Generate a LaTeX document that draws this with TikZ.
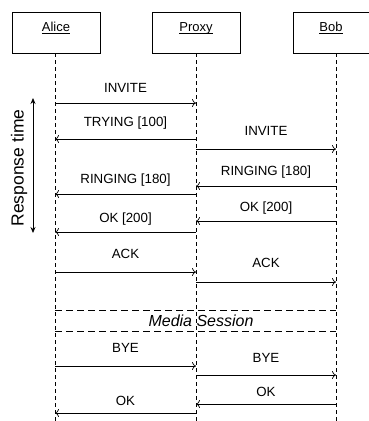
\documentclass[tikz,border=0pt]{standalone}
\usepackage{fontspec}
\setmainfont{Liberation Sans}
\usetikzlibrary{arrows.meta}
\begin{document}
\begin{tikzpicture}[x=1pt,y=-1pt,
  actor/.style={draw,line width=0.6pt,minimum width=88pt,minimum height=41pt,inner sep=0pt,font=\fontsize{13}{15}\selectfont},
  life/.style={line width=0.5pt,dash pattern=on 4pt off 3pt},
  msg/.style={line width=0.7pt,-{To[length=4pt,width=8pt]}},
  lbl/.style={font=\fontsize{13.3}{15}\selectfont,inner sep=0pt},
  sess/.style={line width=1pt,dash pattern=on 7pt off 4pt}]
\useasboundingbox (0,0) rectangle (369,421);
\node[actor] (A) at (56,32.5) {\underline{\smash{Alice}}};
\node[actor] (P) at (196,32.5) {\underline{\smash{Proxy}}};
\node[actor] (B) at (337,32.5) {\underline{\smash{Bob}}\hspace*{12pt}};
\coordinate (Ab) at (55,421); \coordinate (Pb) at (196,421); \coordinate (Bb) at (336,421);
\draw[life] (55,53) coordinate (At) -- (Ab);
\draw[life] (196,53) coordinate (Pt) -- (Pb);
\draw[life] (336,53) coordinate (Bt) -- (Bb);
% messages
\coordinate (a1) at (55,103); \coordinate (p1) at (196,103);
\draw[msg] (a1) -- node[lbl,above=10pt] {INVITE} (p1);
\coordinate (p2) at (196,139); \coordinate (a2) at (55,139);
\draw[msg] (p2) -- node[lbl,above=9pt] {TRYING [100]} (a2);
\coordinate (p3) at (196,149); \coordinate (b3) at (336,149);
\draw[msg] (p3) -- node[lbl,above=13pt] {INVITE} (b3);
\coordinate (b4) at (336,186); \coordinate (p4) at (196,186);
\draw[msg] (b4) -- node[lbl,above=7pt] {RINGING [180]} (p4);
\coordinate (p5) at (196,194); \coordinate (a5) at (55,194);
\draw[msg] (p5) -- node[lbl,above=7pt] {RINGING [180]} (a5);
\coordinate (b6) at (336,221); \coordinate (p6) at (196,221);
\draw[msg] (b6) -- node[lbl,above=6pt] {OK [200]} (p6);
\coordinate (p7) at (196,232); \coordinate (a7) at (55,232);
\draw[msg] (p7) -- node[lbl,above=6pt] {OK [200]} (a7);
\coordinate (a8) at (55,272); \coordinate (p8) at (196,272);
\draw[msg] (a8) -- node[lbl,above=13pt] {ACK} (p8);
\coordinate (p9) at (196,282); \coordinate (b9) at (336,282);
\draw[msg] (p9) -- node[lbl,above=14pt] {ACK} (b9);
% media session
\coordinate (s1) at (55,310); \coordinate (s2) at (336,310);
\coordinate (s3) at (55,331); \coordinate (s4) at (336,331);
\draw[sess] (s1) -- (s2);
\draw[sess] (s3) -- (s4);
\node[lbl,font=\fontsize{16}{18}\selectfont\itshape] (ms) at (201,321) {Media Session};
\coordinate (a10) at (55,366); \coordinate (p10) at (196,366);
\draw[msg] (a10) -- node[lbl,above=13pt] {BYE} (p10);
\coordinate (p11) at (196,375); \coordinate (b11) at (336,375);
\draw[msg] (p11) -- node[lbl,above=12pt] {BYE} (b11);
\coordinate (b12) at (336,404); \coordinate (p12) at (196,404);
\draw[msg] (b12) -- node[lbl,above=7pt] {OK} (p12);
\coordinate (p13) at (196,413); \coordinate (a13) at (55,413);
\draw[msg] (p13) -- node[lbl,above=7pt] {OK} (a13);
% response time
\coordinate (r1) at (33,98); \coordinate (r2) at (33,233);
\draw[line width=0.8pt,{Stealth[length=6pt,width=5pt]}-{Stealth[length=6pt,width=5pt]}] (r1) -- (r2);
\node[lbl,rotate=90,font=\fontsize{17.5}{19}\selectfont] (rt) at (19,168) {Response time};
\end{tikzpicture}
\end{document}
